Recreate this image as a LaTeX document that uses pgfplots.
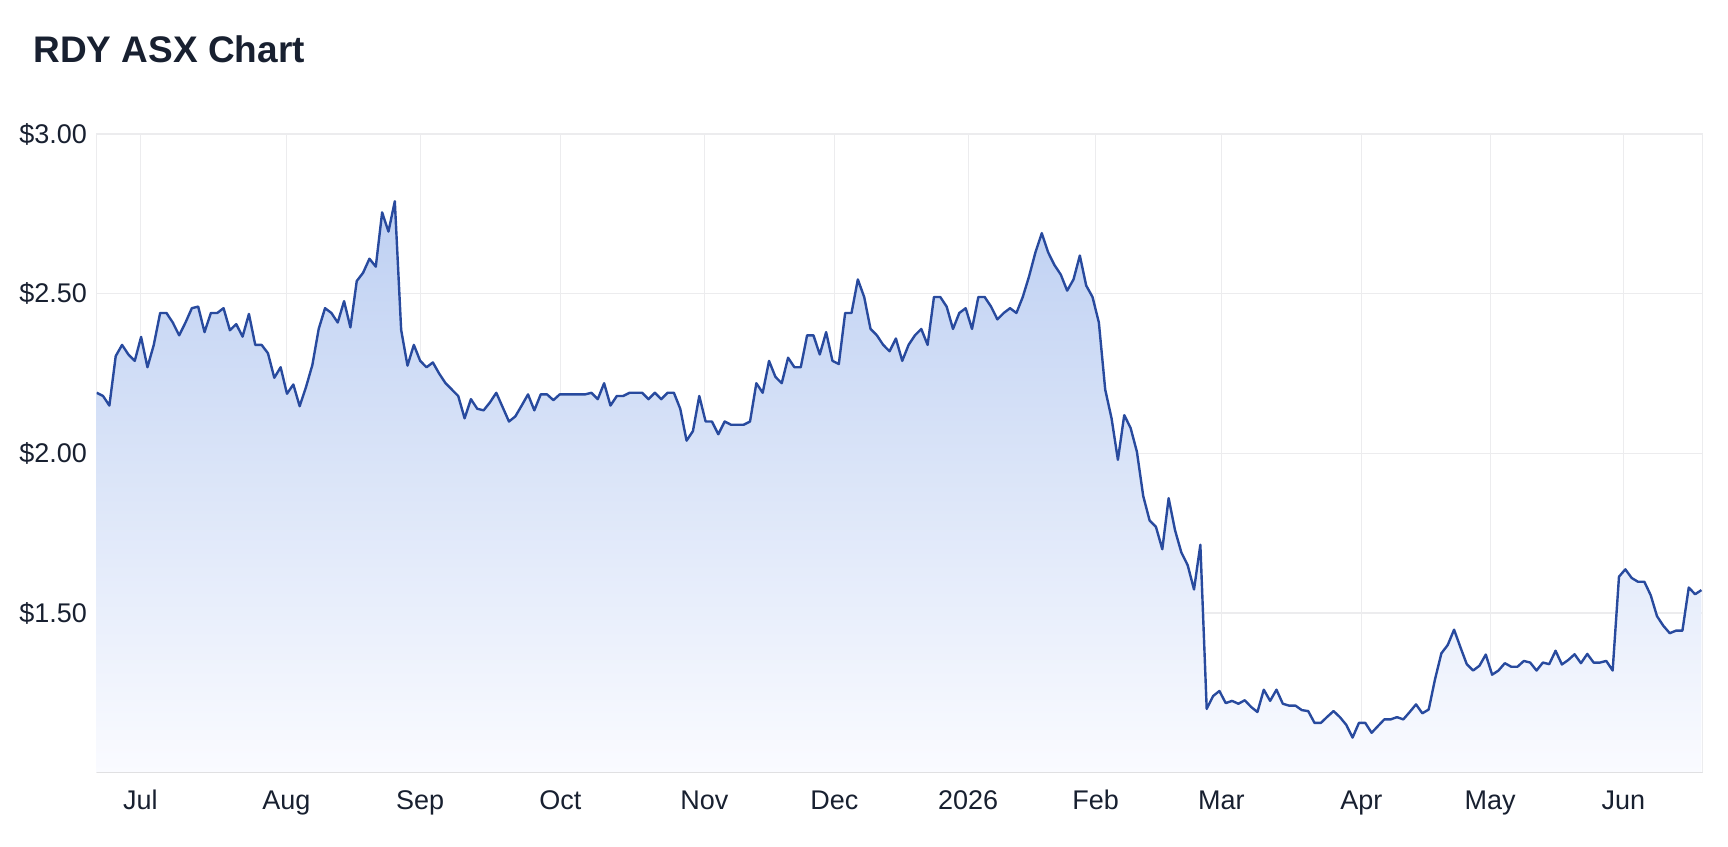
\documentclass[border=0pt]{standalone}
\usepackage{pgfplots}
\pgfplotsset{compat=1.18}
\usepackage{pgfplotstable}
\usepackage{fontspec}
\setmainfont{Liberation Sans}

\definecolor{priceline}{RGB}{40,74,158}
\definecolor{fillTop}{RGB}{190,208,242}
\definecolor{fillMid}{RGB}{210,223,246}
\definecolor{fillBot}{RGB}{250,251,255}
\definecolor{gridcol}{RGB}{236,236,238}
\definecolor{axisbot}{RGB}{224,224,226}
\definecolor{labelcol}{RGB}{24,32,48}

% trading day index vs closing price
\pgfplotstableread{
day price
0 2.19
1 2.18
2 2.15
3 2.305
4 2.34
5 2.31
6 2.29
7 2.365
8 2.27
9 2.34
10 2.44
11 2.44
12 2.41
13 2.37
14 2.41
15 2.455
16 2.46
17 2.38
18 2.44
19 2.44
20 2.455
21 2.386
22 2.405
23 2.366
24 2.437
25 2.34
26 2.34
27 2.314
28 2.237
29 2.27
30 2.187
31 2.216
32 2.148
33 2.208
34 2.277
35 2.39
36 2.455
37 2.44
38 2.41
39 2.477
40 2.395
41 2.54
42 2.566
43 2.61
44 2.585
45 2.755
46 2.695
47 2.79
48 2.387
49 2.275
50 2.34
51 2.29
52 2.27
53 2.285
54 2.25
55 2.22
56 2.20
57 2.18
58 2.11
59 2.17
60 2.14
61 2.135
62 2.16
63 2.19
64 2.145
65 2.10
66 2.116
67 2.15
68 2.185
69 2.135
70 2.185
71 2.185
72 2.167
73 2.185
74 2.185
75 2.185
76 2.185
77 2.185
78 2.19
79 2.17
80 2.22
81 2.15
82 2.18
83 2.18
84 2.19
85 2.19
86 2.19
87 2.17
88 2.19
89 2.17
90 2.19
91 2.19
92 2.14
93 2.04
94 2.07
95 2.18
96 2.10
97 2.10
98 2.06
99 2.10
100 2.09
101 2.09
102 2.09
103 2.10
104 2.22
105 2.19
106 2.29
107 2.24
108 2.22
109 2.30
110 2.27
111 2.27
112 2.37
113 2.37
114 2.31
115 2.38
116 2.29
117 2.28
118 2.44
119 2.44
120 2.545
121 2.49
122 2.39
123 2.37
124 2.34
125 2.32
126 2.36
127 2.29
128 2.34
129 2.37
130 2.39
131 2.34
132 2.49
133 2.49
134 2.46
135 2.39
136 2.44
137 2.455
138 2.39
139 2.49
140 2.49
141 2.46
142 2.42
143 2.44
144 2.455
145 2.44
146 2.49
147 2.555
148 2.63
149 2.69
150 2.63
151 2.59
152 2.56
153 2.51
154 2.545
155 2.62
156 2.526
157 2.49
158 2.41
159 2.20
160 2.11
161 1.98
162 2.12
163 2.08
164 2.005
165 1.866
166 1.79
167 1.77
168 1.70
169 1.86
170 1.76
171 1.69
172 1.65
173 1.574
174 1.714
175 1.20
176 1.24
177 1.256
178 1.218
179 1.225
180 1.216
181 1.227
182 1.206
183 1.19
184 1.26
185 1.225
186 1.26
187 1.216
188 1.21
189 1.21
190 1.196
191 1.193
192 1.156
193 1.156
194 1.175
195 1.193
196 1.174
197 1.15
198 1.11
199 1.156
200 1.156
201 1.125
202 1.146
203 1.167
204 1.167
205 1.174
206 1.167
207 1.19
208 1.214
209 1.186
210 1.198
211 1.293
212 1.374
213 1.40
214 1.448
215 1.393
216 1.34
217 1.32
218 1.335
219 1.37
220 1.307
221 1.32
222 1.343
223 1.332
224 1.332
225 1.35
226 1.345
227 1.32
228 1.345
229 1.34
230 1.382
231 1.339
232 1.353
233 1.371
234 1.343
235 1.372
236 1.345
237 1.345
238 1.35
239 1.32
240 1.614
241 1.637
242 1.61
243 1.598
244 1.598
245 1.556
246 1.49
247 1.46
248 1.437
249 1.445
250 1.445
251 1.58
252 1.559
253 1.572
}\pricedata

\begin{document}
\begin{tikzpicture}
\useasboundingbox (0pt,0pt) rectangle (864pt,423pt);
\node[anchor=base west, inner sep=0pt, text=labelcol,
      font=\bfseries\fontsize{18.5}{22}\selectfont] at (16.5pt,391.6pt) {RDY ASX Chart};
\begin{axis}[
    at={(48.35pt,36.65pt)}, anchor=south west,
    scale only axis,
    width=803pt, height=319.25pt,
    xmin=0, xmax=253.2,
    ymin=1, ymax=3,
    axis line style={draw=gridcol, line width=0.7pt},
    grid=major,
    major grid style={draw=gridcol, line width=0.65pt},
    major tick length=0pt,
    tick label style={font=\fontsize{13.5}{16}\selectfont, text=labelcol},
    xtick={6.9,29.9,51,73.1,95.8,116.3,137.4,157.5,177.3,199.4,219.7,240.7},
    xticklabels={Jul,Aug,Sep,Oct,Nov,Dec,2026,Feb,Mar,Apr,May,Jun},
    ytick={1.5,2,2.5,3},
    yticklabels={\$1.50,\$2.00,\$2.50,\$3.00},
    yticklabel style={anchor=east, inner sep=0pt, xshift=-4.7pt},
    xticklabel style={anchor=base, inner sep=0pt, yshift=-18.6pt},
]
\addplot[draw=none, top color=fillTop, middle color=fillMid, bottom color=fillBot]
    table[x=day, y=price]{\pricedata} -- (axis cs:253,1) -- (axis cs:0,1) -- cycle;
\addplot[priceline, line width=1.2pt, line join=round, mark=none]
    table[x=day, y=price]{\pricedata};
\draw[axisbot, line width=1pt] (rel axis cs:0,0) -- (rel axis cs:1,0);
\end{axis}
\end{tikzpicture}
\end{document}
